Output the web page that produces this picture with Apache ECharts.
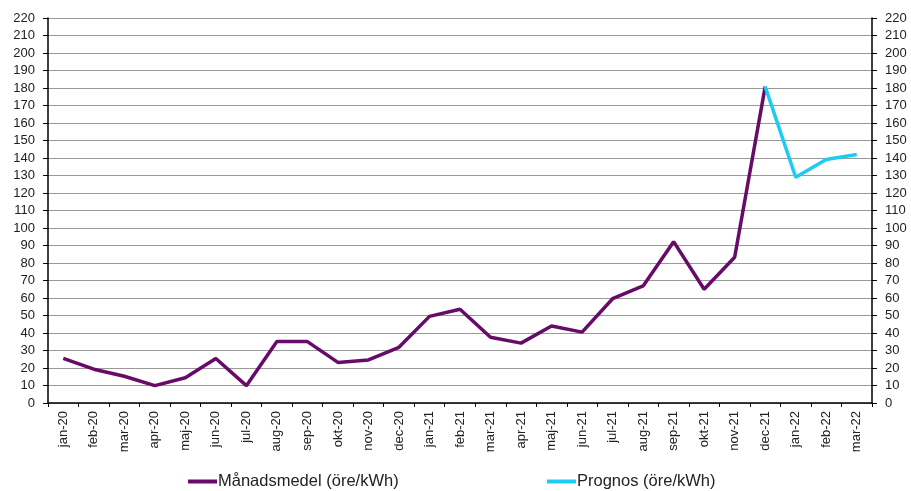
<!DOCTYPE html>
<html>
<head>
<meta charset="utf-8">
<script src="https://cdn.jsdelivr.net/npm/echarts@6/dist/echarts.min.js"></script>
<style>html,body{margin:0;padding:0;background:#fff;}#c{width:911px;height:491px;}</style>
</head>
<body>
<div id="c"></div>
<script>
var months = ['jan-20','feb-20','mar-20','apr-20','maj-20','jun-20','jul-20','aug-20','sep-20','okt-20','nov-20','dec-20',
  'jan-21','feb-21','mar-21','apr-21','maj-21','jun-21','jul-21','aug-21','sep-21','okt-21','nov-21','dec-21',
  'jan-22','feb-22','mar-22'];
var manadsmedel = [25.5,19.3,15.3,9.9,14.4,25.4,9.9,35.2,35.1,23.2,24.6,31.8,
  49.5,53.6,37.6,34.2,44.0,40.5,59.6,66.9,92.2,65.0,83.3,180.8,null,null,null];
var prognos = [null,null,null,null,null,null,null,null,null,null,null,null,
  null,null,null,null,null,null,null,null,null,null,null,180.8,129.0,139.2,142.0];
var seriesNames = ['Månadsmedel (öre/kWh)','Prognos (öre/kWh)'];

var font = 'Liberation Sans, Arial, sans-serif';
var yAxisBase = {
  type: 'value', min: 0, max: 220, interval: 10,
  axisLine: {show: true, lineStyle: {color: '#000', width: 1.5}},
  axisTick: {show: true, length: 5, inside: false, lineStyle: {color: '#000'}},
  axisLabel: {color: '#222', fontFamily: font, fontSize: 13, margin: 13},
  splitLine: {show: true, lineStyle: {color: '#999', width: 1.2}}
};
var chart = echarts.init(document.getElementById('c'));
chart.setOption({
  animation: false,
  grid: {left: 48, right: 39, top: 18, bottom: 88, containLabel: false},
  legend: [
    {data: [seriesNames[0]], left: 183, top: 468, icon: 'rect', itemWidth: 29, itemHeight: 4, itemGap: 0,
     textStyle: {fontFamily: font, fontSize: 16.5, color: '#222', padding: [0,0,0,-4]}},
    {data: [seriesNames[1]], left: 542, top: 468, icon: 'rect', itemWidth: 29, itemHeight: 4, itemGap: 0,
     textStyle: {fontFamily: font, fontSize: 16.5, color: '#222', padding: [0,0,0,-4]}}
  ],
  xAxis: {
    type: 'category', data: months, boundaryGap: true,
    axisLine: {show: true, lineStyle: {color: '#000', width: 1.5}},
    axisTick: {show: true, length: 4, alignWithLabel: false, interval: 0, lineStyle: {color: '#000'}},
    axisLabel: {rotate: 90, interval: 0, color: '#222', fontFamily: font, fontSize: 13, margin: 8}
  },
  yAxis: [
    Object.assign({}, yAxisBase, {position: 'left'}),
    Object.assign({}, yAxisBase, {position: 'right', splitLine: {show: false}})
  ],
  series: [
    {name: seriesNames[0], type: 'line', data: manadsmedel, symbol: 'none', yAxisIndex: 0,
     lineStyle: {color: '#680a68', width: 3.5}, itemStyle: {color: '#680a68'}},
    {name: seriesNames[1], type: 'line', data: prognos, symbol: 'none', yAxisIndex: 0,
     lineStyle: {color: '#1ecbf2', width: 3.5}, itemStyle: {color: '#1ecbf2'}}
  ]
});
</script>
</body>
</html>
